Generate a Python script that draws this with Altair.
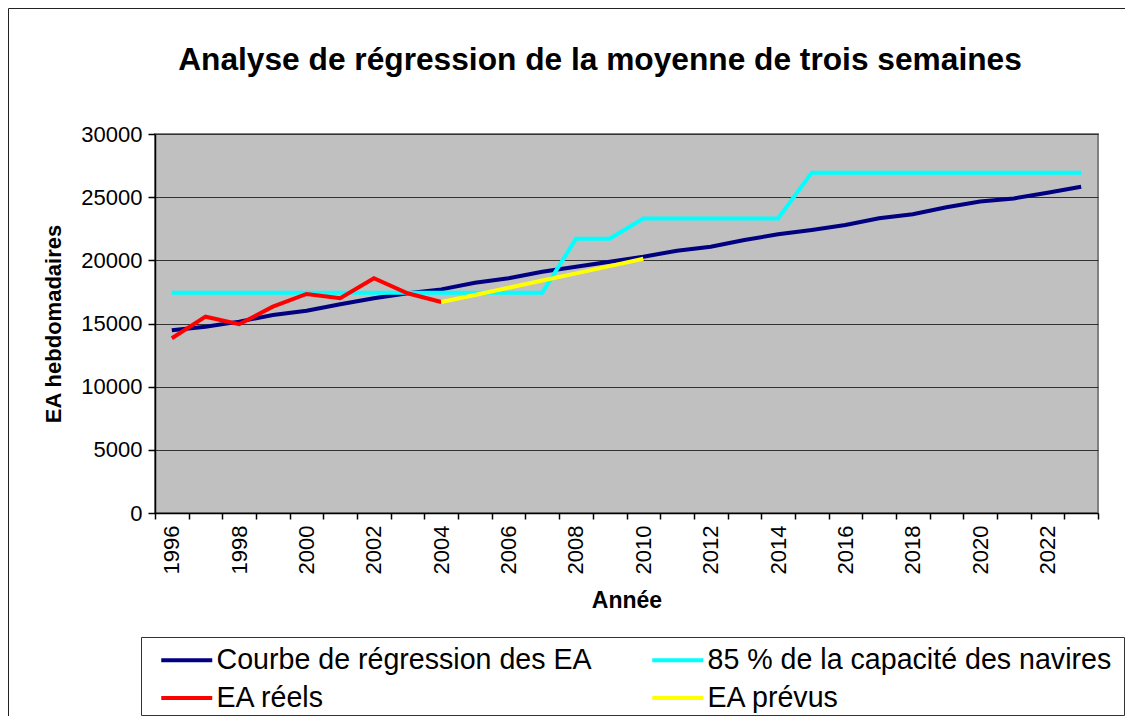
import altair as alt
import pandas as pd

TITLE = "Analyse de régression de la moyenne de trois semaines"
X_TITLE = "Année"
Y_TITLE = "EA hebdomadaires"

years = ["1996", "1997", "1998", "1999", "2000", "2001", "2002", "2003", "2004",
         "2005", "2006", "2007", "2008", "2009", "2010", "2011", "2012", "2013",
         "2014", "2015", "2016", "2017", "2018", "2019", "2020", "2021", "2022", "2023"]

S1 = "Courbe de régression des EA"
S2 = "85 % de la capacité des navires"
S3 = "EA réels"
S4 = "EA prévus"

regression = [14460, 14750, 15150, 15670, 16010, 16520, 17000, 17390, 17700, 18230,
              18580, 19100, 19500, 19890, 20290, 20760, 21080, 21610, 22060, 22400,
              22800, 23330, 23650, 24200, 24650, 24900, 25350, 25830]
capacity = [17440, 17440, 17440, 17440, 17440, 17440, 17440, 17440, 17440, 17440,
            17440, 17440, 21710, 21710, 23310, 23310, 23310, 23310, 23310, 26940,
            26940, 26940, 26940, 26940, 26940, 26940, 26940, 26940]
reels_years = years[0:9]
reels = [13830, 15540, 14940, 16330, 17340, 17000, 18580, 17390, 16700]
prevus_years = years[8:15]
prevus = [16700, 17260, 17830, 18400, 18970, 19540, 20130]

y_ticks = [0, 5000, 10000, 15000, 20000, 25000, 30000]

series_names = [S1, S2, S3, S4]
series_colors = ["#000080", "#00FFFF", "#FF0000", "#FFFF00"]

rows = []
for yr, v in zip(years, regression):
    rows.append({"year": yr, "value": v, "series": S1})
for yr, v in zip(years, capacity):
    rows.append({"year": yr, "value": v, "series": S2})
for yr, v in zip(reels_years, reels):
    rows.append({"year": yr, "value": v, "series": S3})
for yr, v in zip(prevus_years, prevus):
    rows.append({"year": yr, "value": v, "series": S4})
df = pd.DataFrame(rows)

FONT = "Liberation Sans"
W, H = 943, 379

x_enc = alt.X(
    "year:O",
    sort=years,
    bandPosition=0.5,
    scale=alt.Scale(type="band", paddingInner=0, paddingOuter=0, domain=years),
    axis=alt.Axis(
        title=X_TITLE,
        tickBand="extent",
        labelAngle=-90,
        labelExpr="toNumber(datum.value) % 2 == 0 ? datum.value : ''",
        labelOverlap=False,
        tickSize=6,
        labelPadding=6,
        labelFontSize=22,
        labelFont=FONT,
        labelColor="black",
        titleFont=FONT,
        titleFontSize=23,
        titleFontWeight="bold",
        titleColor="black",
        titlePadding=16,
        domainColor="black",
        domainWidth=1.5,
        tickColor="black",
        tickWidth=1.5,
        grid=False,
    ),
)
y_enc = alt.Y(
    "value:Q",
    scale=alt.Scale(domain=[0, 30000], nice=False),
    axis=alt.Axis(
        title=Y_TITLE,
        values=y_ticks,
        format="d",
        grid=True,
        gridColor="#333333",
        gridWidth=1.2,
        tickSize=7,
        labelPadding=6,
        labelFontSize=22,
        labelFont=FONT,
        labelColor="black",
        titleFont=FONT,
        titleFontSize=22,
        titleFontWeight="bold",
        titleColor="black",
        titlePadding=15,
        domainColor="black",
        domainWidth=1.5,
        tickColor="black",
        tickWidth=1.5,
    ),
)
color_enc = alt.Color(
    "series:N",
    scale=alt.Scale(domain=series_names, range=series_colors),
    legend=alt.Legend(
        title=None,
        orient="none",
        legendX=-14,
        legendY=503,
        direction="horizontal",
        columns=2,
        columnPadding=48,
        rowPadding=8,
        padding=8,
        symbolType="M-2,0H2",
        symbolSize=650,
        symbolStrokeWidth=4,
        symbolOffset=22.75,
        labelOffset=14.75,
        labelFontSize=28.6,
        labelFont=FONT,
        labelColor="black",
        labelLimit=0,
    ),
)

layers = []
for s in series_names:
    layers.append(
        alt.Chart(df)
        .transform_filter(alt.datum.series == s)
        .mark_line(strokeWidth=4)
        .encode(x=x_enc, y=y_enc, color=color_enc)
    )

one = pd.DataFrame({"k": [0]})
border = alt.Chart(one).mark_rect(fill="transparent", stroke="#222222", strokeWidth=1).encode(
    x=alt.value(-146.5), x2=alt.value(1000), y=alt.value(-125.5), y2=alt.value(620)
)
legend_box = alt.Chart(one).mark_rect(fill="white", stroke="#333333", strokeWidth=1).encode(
    x=alt.value(-13.5), x2=alt.value(969.5), y=alt.value(503.5), y2=alt.value(581.5)
)
title = alt.Chart(one).mark_text(
    font=FONT, fontSize=31.7, fontWeight="bold", align="center", baseline="alphabetic", color="black"
).encode(x=alt.value(445), y=alt.value(-64), text=alt.value(TITLE))

chart = alt.layer(border, legend_box, title, *layers).properties(
    width=W,
    height=H,
    autosize=alt.AutoSizeParams(type="none"),
    padding={"left": 147, "top": 126, "right": 27, "bottom": 203},
    background="white",
).configure_view(fill="#C0C0C0", stroke="#808080", strokeWidth=2)

chart.save("out.html", embed_options={"renderer": "svg", "actions": False})
